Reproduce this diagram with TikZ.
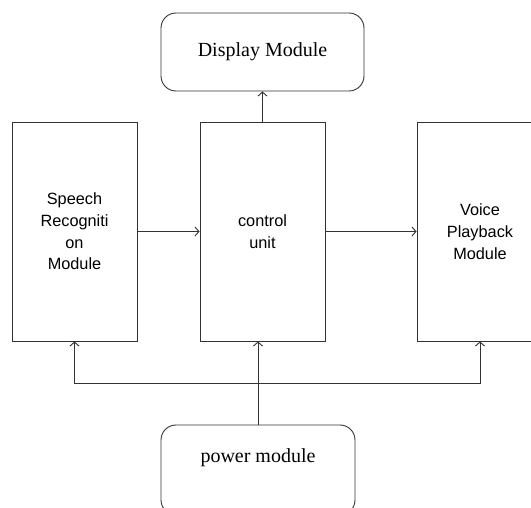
\documentclass[tikz,border=0pt]{standalone}
\usepackage{fontspec}
\setmainfont{Liberation Serif}
\newfontfamily\arialfont{Liberation Sans}
\usetikzlibrary{arrows.meta}
\begin{document}
\begin{tikzpicture}[x=1pt,y=-1pt,
  box/.style={draw=black!80, line width=0.9pt, rectangle, inner sep=0pt},
  rbox/.style={box, rounded corners=15pt},
  sanstext/.style={font=\arialfont\fontsize{16.3}{21.7}\selectfont, align=center},
  seriftext/.style={font=\fontsize{20}{24}\selectfont},
  conn/.style={draw=black!80, line width=0.9pt, -{Straight Barb[length=4pt,width=9pt]}}]
\useasboundingbox (0,0) rectangle (531,508);
\clip (0,0) rectangle (531,508);
\node[rbox, minimum width=203pt, minimum height=78pt, seriftext] (disp) at (262.5,52) {Display Module};
\node[box, minimum width=125pt, minimum height=219pt, sanstext] (speech) at (74.5,231.5) {Speech\\Recogniti\\on\\Module};
\node[box, minimum width=125pt, minimum height=219pt, sanstext] (ctrl) at (262.5,231.5) {control\\unit};
\node[box, minimum width=126pt, minimum height=219pt, sanstext] (voice) at (480,231.5) {Voice\\Playback\\Module};
\node[rbox, minimum width=194pt, minimum height=90pt] (pwr) at (258,470) {};
\node[seriftext, inner sep=0pt] (pwrtext) at (258,458) {power module};
\coordinate (bus) at (258,383);
\draw[conn] (ctrl.north) -- (disp.south);
\draw[conn] (speech.east) -- (ctrl.west);
\draw[conn] (ctrl.east) -- (voice.west);
\draw[conn] (pwr.north) -- (pwr.north |- ctrl.south);
\draw[conn] (bus) -| (speech.south);
\draw[conn] (bus) -| (voice.south);
\end{tikzpicture}
\end{document}
